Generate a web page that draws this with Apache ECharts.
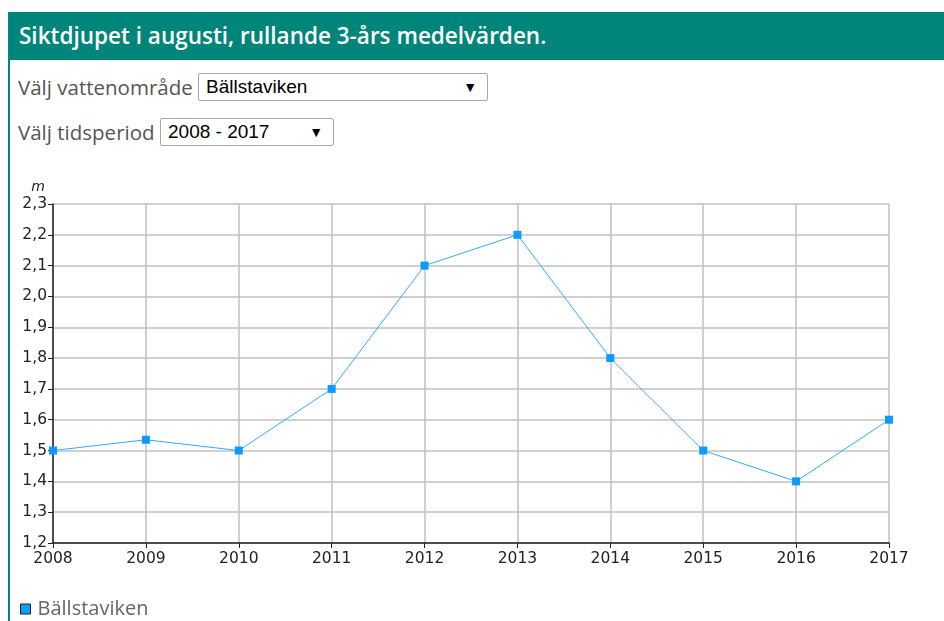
<!DOCTYPE html>
<html>
<head>
<meta charset="utf-8">
<script src="https://cdn.jsdelivr.net/npm/echarts@6/dist/echarts.min.js"></script>
<style>
  html, body { margin: 0; padding: 0; background: #fff; }
  body { width: 944px; height: 621px; overflow: hidden; position: relative; font-family: "Open Sans", sans-serif; }
  .box { position: absolute; left: 8px; top: 12px; width: 940px; height: 620px; border-left: 2px solid #00897b; }
  .head { background: #00857a; color: #fff; font-weight: 600; font-size: 22.5px; height: 48px; line-height: 48px; padding-left: 9px; }
  .lbl { position: absolute; left: 9px; font-size: 20.5px; color: #555; line-height: 28px; }
  .sel { position: absolute; box-sizing: border-box; height: 28px; border: 1px solid #a9a9a9; border-radius: 2px; background: #fff;
         font-family: Arial, "Liberation Sans", sans-serif; font-size: 19px; color: #000; line-height: 26px; padding-left: 7px; }
  .sel span { position: absolute; right: 10px; top: 0; font-size: 14px; }
  #main { position: absolute; left: 9px; top: 160px; width: 935px; height: 461px; }
</style>
</head>
<body>
<div class="box">
  <div class="head">Siktdjupet i augusti, rullande 3-års medelvärden.</div>
</div>
<div class="lbl" style="top:73px; left:18px">Välj vattenområde</div>
<div class="sel" style="left:198px; top:73px; width:290px">Bällstaviken<span>▼</span></div>
<div class="lbl" style="top:118px; left:18px">Välj tidsperiod</div>
<div class="sel" style="left:160px; top:118px; width:174px">2008 - 2017<span>▼</span></div>
<div id="main"></div>
<script>
// år och siktdjup (m)
var years = ['2008', '2009', '2010', '2011', '2012', '2013', '2014', '2015', '2016', '2017']
var depth = [1.5, 1.535, 1.5, 1.7, 2.1, 2.2, 1.8, 1.5, 1.4, 1.6]
var seriesName = 'Bällstaviken'

var myChart = echarts.init(document.getElementById('main'))
var option = {
  animation: false,
  grid: { left: 44, right: 55, top: 44, bottom: 78 },
  legend: {
    left: 11,
    top: 439,
    padding: 0,
    icon: 'rect',
    itemWidth: 10,
    itemHeight: 10,
    textStyle: { color: '#666', fontSize: 20, fontFamily: 'Open Sans', padding: [0, 0, 0, 2] },
    itemStyle: { borderColor: '#222', borderWidth: 1 },
    data: [seriesName]
  },
  xAxis: {
    type: 'category',
    boundaryGap: false,
    data: years,
    axisLine: { lineStyle: { color: '#222', width: 1.5 } },
    axisTick: { show: true, length: 5, lineStyle: { color: '#222' } },
    axisLabel: { color: '#222', fontFamily: 'DejaVu Sans', fontSize: 15.5, margin: 8 },
    splitLine: { show: true, lineStyle: { color: '#c0c0c0', width: 1.5 } }
  },
  yAxis: {
    type: 'value',
    min: 1.2,
    max: 2.3,
    interval: 0.1,
    name: 'm',
    nameGap: 10,
    nameTextStyle: { fontStyle: 'italic', color: '#222', fontSize: 14, fontFamily: 'DejaVu Sans', padding: [0, 30, 0, 0] },
    axisLine: { show: true, lineStyle: { color: '#222', width: 1.5 } },
    axisTick: { show: true, length: 5, lineStyle: { color: '#222' } },
    axisLabel: {
      color: '#222', fontFamily: 'DejaVu Sans', fontSize: 15.5, margin: 6,
      formatter: function (v) { return v.toFixed(1).replace('.', ',') }
    },
    splitLine: { show: true, lineStyle: { color: '#c0c0c0', width: 1.5 } }
  },
  series: [
    {
      name: seriesName,
      type: 'line',
      data: depth,
      symbol: 'rect',
      symbolSize: 8,
      lineStyle: { color: '#33aaff', width: 1 },
      itemStyle: { color: '#0a9bff' }
    }
  ]
}
myChart.setOption(option)
</script>
</body>
</html>
